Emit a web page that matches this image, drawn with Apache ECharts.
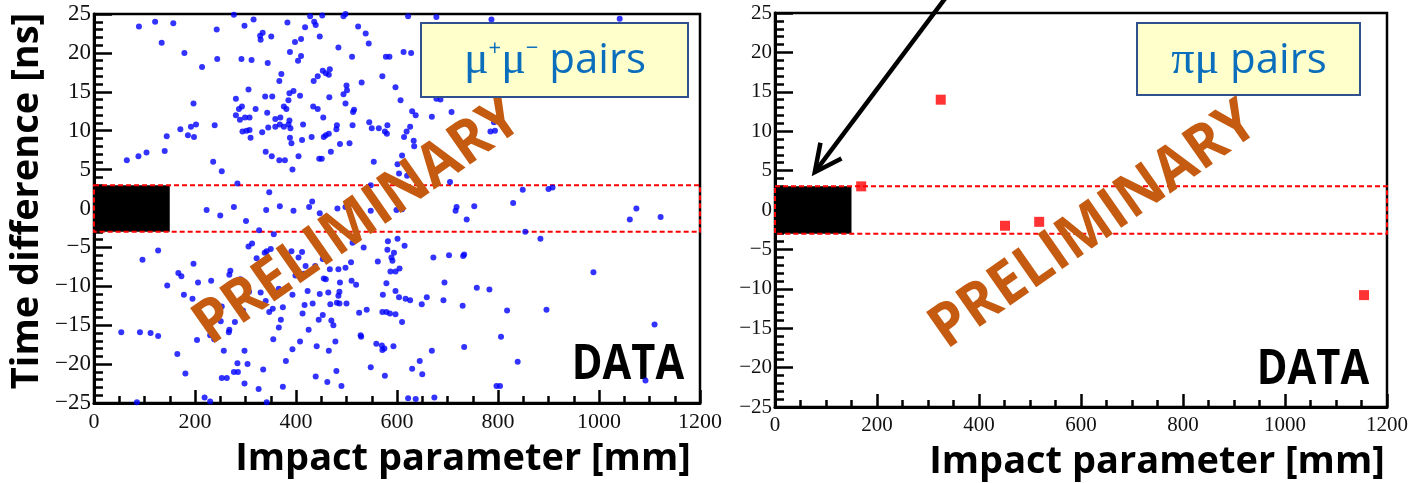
<!DOCTYPE html>
<html>
<head>
<meta charset="utf-8">
<script src="https://cdn.jsdelivr.net/npm/echarts@6/dist/echarts.min.js"></script>
<style>
  html, body { margin: 0; padding: 0; background: #fff; }
  #chart { width: 1411px; height: 483px; }
</style>
</head>
<body>
<div id="chart"></div>
<script>
// Axis ranges and tick steps (impact parameter in mm, time difference in ns)
const impactRange = [0, 1200];
const impactStep = 200;
const timeRange = [-25, 25];
const timeStep = 5;

// Signal window (|dt| < 3 ns) and the blinded region (impact < 150 mm)
const windowImpact = [0, 1200];
const windowTime = [-3, 3];
const blindImpact = [0, 150];

// mu+ mu- pairs: [impact parameter, time difference]
const muMuPoints = [
  [89,23.4],[121,24.0],[157,23.8],[134,21.3],[179,20.0],[243,23.0],[277,24.9],[298,23.5],[316,24.3],[329,22.2],
  [334,22.6],[330,21.7],[351,22.1],[383,23.9],[388,20.1],[244,19.2],[292,19.2],[312,19.1],[344,18.7],[214,18.2],
  [371,17.3],[367,16.4],[306,15.3],[281,14.1],[339,14.4],[353,14.4],[387,14.8],[385,13.9],[197,13.5],[293,13.1],
  [287,12.8],[320,12.8],[376,13.1],[381,12.8],[343,12.3],[281,12.0],[299,11.7],[289,11.4],[308,11.7],[359,11.5],
  [369,11.7],[387,11.3],[385,10.8],[389,10.3],[202,10.8],[192,10.5],[239,10.7],[171,10.2],[294,9.9],[302,10.0],
  [308,10.1],[333,9.8],[345,10.4],[359,10.5],[368,10.8],[376,10.5],[186,9.4],[198,9.2],[144,9.3],[310,9.1],
  [388,9.1],[391,8.4],[140,7.4],[104,7.2],[88,6.7],[65,6.2],[340,7.3],[352,6.7],[367,6.2],[378,6.2],
  [236,6.0],[253,4.8],[284,3.2],[347,2.1],
  [428,24.7],[452,24.8],[494,24.7],[498,25.0],[622,24.7],[678,24.6],[418,23.3],[436,24.0],[439,23.6],[523,23.4],
  [538,22.5],[544,21.2],[398,21.4],[410,21.8],[447,22.1],[484,20.7],[404,19.0],[410,19.6],[511,19.5],[578,19.5],
  [585,19.5],[613,20.1],[628,20.0],[453,17.7],[459,17.4],[467,17.9],[465,17.2],[443,17.0],[435,16.4],[530,16.2],
  [571,17.0],[597,15.6],[500,15.8],[501,15.2],[494,14.7],[395,15.1],[408,14.5],[466,14.3],[498,13.5],[607,13.9],
  [678,14.1],[686,14.0],[434,13.1],[443,12.8],[515,12.7],[513,12.4],[630,12.5],[637,12.0],[669,11.8],[708,12.4],
  [454,11.7],[414,10.8],[481,10.7],[480,10.2],[512,10.7],[545,11.1],[550,10.3],[564,10.3],[581,10.7],[576,9.9],
  [580,9.6],[619,9.9],[626,10.5],[614,9.2],[633,8.7],[634,8.0],[412,8.8],[431,9.2],[455,9.2],[459,9.4],
  [465,9.6],[487,8.3],[506,8.4],[405,6.7],[446,6.4],[451,6.4],[469,7.3],[554,6.0],[610,6.8],[601,5.7],
  [393,5.0],[604,4.5],[620,4.2],[548,3.0],[705,3.4],[432,0.9],
  [787,24.3],[1041,24.4],[785,9.9],[792,11.1],[794,10.0],[849,2.4],[900,2.5],[908,2.7],[830,0.7],
  [223,-0.2],[277,0.2],[341,-0.2],[368,0.3],[250,-0.9],[301,-1.6],[327,-2.8],[356,-3.3],[306,-4.9],[313,-4.5],
  [342,-5.5],[350,-5.2],[338,-5.7],[391,-5.5],[127,-5.4],[96,-6.6],[322,-6.4],[197,-7.1],[167,-8.3],[173,-8.7],
  [270,-8.0],[268,-8.5],[290,-9.1],[145,-9.9],[206,-9.5],[232,-9.3],[178,-11.1],[195,-11.6],[307,-10.7],[330,-10.8],
  [366,-10.3],[393,-11.1],[340,-11.9],[347,-13.3],[354,-12.9],[374,-12.7],[295,-13.1],[253,-12.6],[251,-14.5],[279,-14.6],
  [370,-14.3],[366,-15.3],[268,-15.6],[267,-15.9],[54,-15.9],[91,-15.9],[112,-16.0],[127,-16.4],[230,-16.3],[238,-16.8],
  [204,-16.9],[355,-16.8],[165,-18.7],[257,-18.3],[298,-18.3],[393,-18.1],[284,-19.9],[304,-20.0],[380,-19.6],[181,-21.2],
  [277,-21.0],[285,-21.0],[335,-20.7],[253,-21.8],[263,-21.8],[298,-22.5],[326,-23.2],[374,-22.9],[219,-24.3],[230,-24.8],
  [85,-24.9],[342,-24.9],
  [395,-0.3],[426,0.2],[447,-0.6],[482,0.0],[498,0.2],[548,-0.3],[599,-0.2],[610,-0.1],[718,0.2],[716,-0.3],
  [753,0.3],[738,-1.4],[582,-4.2],[601,-3.9],[512,-4.4],[534,-5.0],[615,-4.8],[581,-5.3],[594,-5.7],[589,-6.3],
  [591,-6.7],[412,-5.6],[405,-6.3],[453,-6.5],[449,-5.1],[419,-7.4],[438,-7.4],[509,-6.9],[498,-7.6],[484,-7.8],
  [467,-7.8],[562,-6.8],[587,-8.1],[597,-8.1],[605,-7.7],[672,-6.3],[703,-6.0],[733,-5.9],[731,-6.1],[399,-8.6],
  [416,-8.4],[455,-9.0],[459,-9.1],[487,-9.5],[510,-9.3],[519,-9.8],[579,-9.6],[694,-9.5],[423,-10.6],[447,-11.0],
  [464,-10.8],[486,-10.7],[484,-11.2],[572,-11.1],[597,-10.6],[604,-11.4],[617,-11.6],[626,-11.8],[659,-11.4],[758,-10.2],
  [783,-10.4],[417,-12.4],[433,-12.2],[468,-12.3],[481,-12.1],[486,-12.2],[500,-12.2],[649,-12.3],[692,-11.8],[730,-12.5],
  [413,-13.5],[453,-13.7],[445,-14.3],[470,-14.4],[474,-15.0],[525,-13.4],[540,-13.0],[571,-13.3],[579,-13.3],[586,-13.5],
  [597,-13.6],[610,-14.6],[425,-15.6],[528,-16.3],[529,-16.5],[408,-17.1],[441,-17.7],[478,-17.1],[465,-18.3],[559,-17.4],
  [570,-17.6],[571,-18.2],[575,-18.0],[593,-17.7],[669,-18.3],[733,-17.8],[645,-19.6],[630,-20.6],[650,-21.3],[548,-20.4],
  [576,-21.5],[480,-20.9],[439,-21.6],[462,-22.3],[490,-22.8],[622,-24.4],[637,-24.5],[674,-24.3],
  [1074,0.0],[1061,-1.4],[1122,-1.1],[854,-3.0],[884,-3.9],[989,-8.2],[818,-13.1],[896,-13.0],[806,-16.5],[839,-19.7],
  [1110,-14.9],[797,-22.8],[804,-22.8],[1092,-22.1]
];

// pi mu pairs: [impact parameter, time difference]
const piMuPoints = [[169,3.0],[325,14.0],[451,-2.0],[518,-1.5],[1155,-10.8]];

// Arrow pointing into the blinded region of the right panel
const arrowTip = [78, 4.8];
const arrowTail = [340, 27.4];

const minusFmt = v => String(v).replace('-', '\u2212');
const tickFont = 'Liberation Serif';

function xAxisFor(gridIndex, fontSize) {
  return {
    gridIndex, type: 'value', min: impactRange[0], max: impactRange[1], interval: impactStep,
    axisLine: { show: true, onZero: false, lineStyle: { color: '#000', width: 3 } },
    axisTick: { show: true, inside: true, length: 13, lineStyle: { color: '#000', width: 2.5 } },
    minorTick: { show: true, splitNumber: 4, length: 7, lineStyle: { color: '#000', width: 2.5 } },
    splitLine: { show: false },
    axisLabel: { color: '#111', fontFamily: tickFont, fontSize, margin: 8, formatter: minusFmt }
  };
}
function yAxisFor(gridIndex, fontSize) {
  return {
    gridIndex, type: 'value', min: timeRange[0], max: timeRange[1], interval: timeStep,
    axisLine: { show: true, onZero: false, lineStyle: { color: '#000', width: 3 } },
    axisTick: { show: true, inside: true, length: 18, lineStyle: { color: '#000', width: 2.5 } },
    minorTick: { show: true, splitNumber: 5, length: 9, lineStyle: { color: '#000', width: 2.5 } },
    splitLine: { show: false },
    axisLabel: { color: '#111', fontFamily: tickFont, fontSize, margin: 3, formatter: minusFmt }
  };
}

// Draws the rectangle [x0, x1] x [y0, y1] in data coordinates
function boxRenderer(style) {
  return function (params, api) {
    const p0 = api.coord([api.value(0), api.value(2)]);
    const p1 = api.coord([api.value(1), api.value(3)]);
    return {
      type: 'rect',
      shape: { x: p0[0], y: p1[1], width: p1[0] - p0[0], height: p0[1] - p1[1] },
      style: style
    };
  };
}
const blindStyle = { fill: '#000' };
const windowStyle = { fill: 'none', stroke: '#ff0000', lineWidth: 2, lineDash: [5, 3] };

function boxSeries(idx) {
  return [
    { type: 'custom', xAxisIndex: idx, yAxisIndex: idx, z: 1, silent: true,
      renderItem: boxRenderer(blindStyle),
      data: [[blindImpact[0], blindImpact[1], windowTime[0], windowTime[1]]] },
    { type: 'custom', xAxisIndex: idx, yAxisIndex: idx, z: 1, silent: true,
      renderItem: boxRenderer(windowStyle),
      data: [[windowImpact[0], windowImpact[1], windowTime[0], windowTime[1]]] }
  ];
}

const chart = echarts.init(document.getElementById('chart'), null, { renderer: 'canvas' });
chart.setOption({
  animation: false,
  backgroundColor: '#fff',
  grid: [
    { left: 94, top: 14, width: 606, height: 389, show: true, borderColor: '#000', borderWidth: 2.5, backgroundColor: 'transparent' },
    { left: 775, top: 13, width: 612, height: 394, show: true, borderColor: '#000', borderWidth: 2.5, backgroundColor: 'transparent' }
  ],
  xAxis: [xAxisFor(0, 22), xAxisFor(1, 21)],
  yAxis: [yAxisFor(0, 23), yAxisFor(1, 21)],
  series: [
    ...boxSeries(0),
    ...boxSeries(1),
    { type: 'scatter', name: 'μ+μ− pairs', xAxisIndex: 0, yAxisIndex: 0, z: 3, clip: false,
      symbol: 'circle', symbolSize: 6, itemStyle: { color: '#0000ff' }, data: muMuPoints },
    { type: 'scatter', name: 'πμ pairs', xAxisIndex: 1, yAxisIndex: 1, z: 3, clip: false,
      symbol: 'rect', symbolSize: 10, itemStyle: { color: '#ff0000' }, data: piMuPoints }
  ]
});

// Overlay annotations
const titleFont = '"Open Sans", "DejaVu Sans", sans-serif';
const prelimColor = '#c55a11';
const pairsBlue = '#0a6ebd';
const deg = Math.PI / 180;

function prelim(x, y) {
  return { type: 'text', x, y, rotation: 35 * deg, scaleX: 0.94, z: 30,
    style: { text: 'PRELIMINARY', fill: prelimColor, font: 'bold 60px ' + titleFont, align: 'center', verticalAlign: 'middle' } };
}
function dataTag(x, y) {
  return { type: 'text', x, y, scaleX: 0.85, z: 1,
    style: { text: 'DATA', fill: '#000', font: 'bold 49px ' + titleFont, align: 'center', verticalAlign: 'middle' } };
}
function pairsBox(x, y, w, h) {
  return { type: 'rect', z: 40, shape: { x, y, width: w, height: h },
    style: { fill: '#ffffcc', stroke: '#2f528f', lineWidth: 2 } };
}

const tip = chart.convertToPixel({ gridIndex: 1 }, arrowTip);
const tail = chart.convertToPixel({ gridIndex: 1 }, arrowTail);
const dx = tail[0] - tip[0], dy = tail[1] - tip[1];
const len = Math.hypot(dx, dy);
const ux = dx / len, uy = dy / len;
const barb = 30, spread = 26 * deg;
function rot(a) { return [ux * Math.cos(a) - uy * Math.sin(a), ux * Math.sin(a) + uy * Math.cos(a)]; }
const b1 = rot(spread), b2 = rot(-spread);

chart.setOption({
  graphic: [
    { type: 'text', x: 27, y: 201, rotation: 90 * deg, z: 5,
      style: { text: 'Time difference [ns]', fill: '#000', font: 'bold 38px ' + titleFont, align: 'center', verticalAlign: 'middle' } },
    { type: 'text', x: 463, y: 459, z: 5,
      style: { text: 'Impact parameter [mm]', fill: '#000', font: 'bold 38px ' + titleFont, align: 'center', verticalAlign: 'middle' } },
    { type: 'text', x: 1157, y: 462, z: 5,
      style: { text: 'Impact parameter [mm]', fill: '#000', font: 'bold 38px ' + titleFont, align: 'center', verticalAlign: 'middle' } },
    dataTag(628, 365),
    dataTag(1313, 370),
    prelim(358, 222),
    prelim(1094, 226),
    pairsBox(421, 23, 267, 74),
    pairsBox(1137, 23, 223, 72),
    { type: 'text', x: 555, y: 61, z: 41,
      style: {
        text: '{g|μ}{s|+}{g|μ}{s|\u2212}{t| pairs}', align: 'center', verticalAlign: 'middle',
        rich: {
          g: { fontFamily: 'Liberation Serif', fontSize: 46, fill: pairsBlue },
          s: { fontFamily: titleFont, fontSize: 22, fill: pairsBlue, verticalAlign: 'top' },
          t: { fontFamily: titleFont, fontSize: 42, fill: pairsBlue }
        }
      } },
    { type: 'text', x: 1249, y: 61, z: 41,
      style: {
        text: '{g|πμ}{t| pairs}', align: 'center', verticalAlign: 'middle',
        rich: {
          g: { fontFamily: 'Liberation Serif', fontSize: 46, fill: pairsBlue },
          t: { fontFamily: titleFont, fontSize: 42, fill: pairsBlue }
        }
      } },
    { type: 'polyline', z: 45, shape: { points: [tail, tip] },
      style: { stroke: '#000', lineWidth: 4.5, fill: null } },
    { type: 'polyline', z: 45,
      shape: { points: [[tip[0] + b1[0] * barb, tip[1] + b1[1] * barb], tip, [tip[0] + b2[0] * barb, tip[1] + b2[1] * barb]] },
      style: { stroke: '#000', lineWidth: 4.5, fill: null, lineJoin: 'miter' } }
  ]
});
</script>
</body>
</html>
